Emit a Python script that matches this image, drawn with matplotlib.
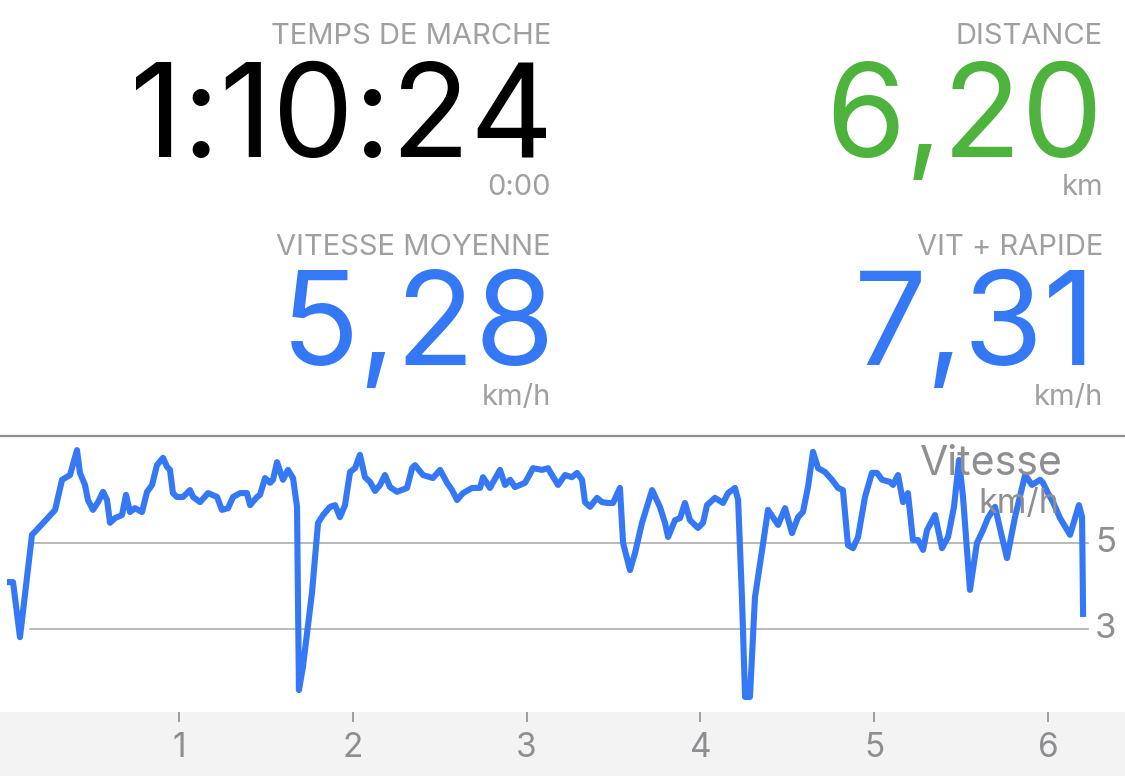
import matplotlib.pyplot as plt
from matplotlib.transforms import blended_transform_factory

# Speed profile (distance km, speed km/h)
distance = [
    0.010, 0.045, 0.085, 0.154, 0.171, 0.217, 0.287, 0.327, 0.373, 0.413,
    0.430, 0.459, 0.476, 0.505, 0.534, 0.563, 0.586, 0.603, 0.632, 0.672,
    0.695, 0.718, 0.747, 0.787, 0.816, 0.845, 0.873, 0.908, 0.931, 0.948,
    0.965, 0.988, 1.023, 1.063, 1.081, 1.121, 1.167, 1.219, 1.247, 1.282,
    1.311, 1.351, 1.391, 1.409, 1.449, 1.466, 1.495, 1.524, 1.541, 1.564,
    1.598, 1.627, 1.656, 1.679, 1.690, 1.713, 1.765, 1.800, 1.829, 1.869,
    1.898, 1.926, 1.955, 1.984, 2.013, 2.041, 2.070, 2.099, 2.128, 2.157,
    2.185, 2.214, 2.254, 2.312, 2.341, 2.358, 2.404, 2.461, 2.502, 2.542,
    2.571, 2.600, 2.634, 2.686, 2.732, 2.749, 2.789, 2.847, 2.876, 2.905,
    2.933, 2.991, 3.037, 3.089, 3.123, 3.146, 3.181, 3.221, 3.261, 3.290,
    3.319, 3.336, 3.365, 3.405, 3.434, 3.468, 3.497, 3.537, 3.555, 3.595,
    3.624, 3.664, 3.722, 3.767, 3.796, 3.814, 3.854, 3.883, 3.911, 3.940,
    3.986, 4.015, 4.038, 4.084, 4.130, 4.159, 4.199, 4.217, 4.239, 4.257,
    4.285, 4.314, 4.355, 4.389, 4.447, 4.487, 4.527, 4.562, 4.590, 4.619,
    4.648, 4.677, 4.717, 4.757, 4.792, 4.820, 4.849, 4.878, 4.907, 4.947,
    4.987, 5.016, 5.045, 5.091, 5.108, 5.137, 5.166, 5.194, 5.223, 5.252,
    5.281, 5.304, 5.350, 5.390, 5.425, 5.459, 5.488, 5.511, 5.551, 5.591,
    5.626, 5.654, 5.695, 5.735, 5.764, 5.810, 5.868, 5.908, 5.954, 5.971,
    6.000, 6.029, 6.069, 6.127, 6.156, 6.178, 6.196, 6.202,
]
speed = [
    4.09, 4.09, 2.81, 5.19, 5.26, 5.46, 5.77, 6.47, 6.58, 7.16,
    6.63, 6.35, 6.00, 5.77, 5.95, 6.19, 6.00, 5.47, 5.58, 5.65,
    6.12, 5.72, 5.81, 5.72, 6.19, 6.35, 6.81, 6.98, 6.77, 6.70,
    6.16, 6.07, 6.07, 6.23, 6.07, 5.95, 6.16, 6.07, 5.77, 5.81,
    6.07, 6.16, 6.16, 5.88, 6.07, 6.12, 6.51, 6.40, 6.47, 6.88,
    6.47, 6.70, 6.51, 5.84, 1.58, 2.12, 3.84, 5.47, 5.65, 5.84,
    5.88, 5.60, 5.88, 6.65, 6.74, 7.05, 6.53, 6.42, 6.21, 6.35,
    6.58, 6.30, 6.19, 6.28, 6.74, 6.81, 6.58, 6.51, 6.70, 6.40,
    6.23, 6.00, 6.16, 6.28, 6.28, 6.53, 6.28, 6.70, 6.35, 6.47,
    6.30, 6.40, 6.74, 6.70, 6.74, 6.58, 6.35, 6.58, 6.53, 6.63,
    6.47, 5.95, 5.84, 6.05, 5.95, 5.93, 5.93, 6.28, 5.00, 4.37,
    4.77, 5.47, 6.23, 5.84, 5.47, 5.14, 5.53, 5.58, 5.93, 5.53,
    5.35, 5.47, 5.88, 6.05, 5.93, 6.16, 6.28, 6.00, 3.74, 1.42,
    1.42, 3.74, 4.84, 5.77, 5.42, 5.81, 5.23, 5.60, 5.72, 6.30,
    7.12, 6.74, 6.65, 6.47, 6.28, 6.23, 4.95, 4.88, 5.14, 6.07,
    6.63, 6.63, 6.47, 6.42, 6.35, 6.58, 5.95, 6.16, 5.07, 5.07,
    4.84, 5.30, 5.65, 4.88, 5.14, 5.84, 6.93, 6.07, 3.91, 5.00,
    5.30, 5.58, 5.84, 5.14, 4.65, 5.60, 6.58, 6.35, 6.47, 6.40,
    6.16, 5.95, 5.58, 5.19, 5.58, 5.88, 5.60, 3.28,
]

x_ticks = [1, 2, 3, 4, 5, 6]
y_ticks = [5, 3]

# Summary panel: label, value, unit, value colour
stat_labels = ["TEMPS DE MARCHE", "DISTANCE", "VITESSE MOYENNE", "VIT + RAPIDE"]
stat_values = ["1:10:24", "6,20", "5,28", "7,31"]
stat_units = ["0:00", "km", "km/h", "km/h"]

BLUE = "#3478f6"
GREEN = "#4db33d"
GRAY = "#a0a0a0"
TICK_GRAY = "#8e8e93"
stat_colors = ["#000000", GREEN, BLUE, BLUE]

W, H = 1125, 776
plt.rcParams['font.family'] = ['Inter', 'DejaVu Sans']

fig = plt.figure(figsize=(W / 100, H / 100), dpi=100)
fig.patch.set_facecolor("white")


def px_text(x, y, s, **kw):
    # place text using pixel coords measured from top-left
    fig.text(x / W, 1 - y / H, s, **kw)


# column right edges and baselines (pixels)
right_edges = [551, 1103, 551, 1103]
value_right = [553, 1103, 555, 1097]
rows = [(44, 157, 195), (44, 157, 195), (255, 365, 405), (255, 365, 405)]
for i in range(4):
    xr = right_edges[i]
    yl, yv, yu = rows[i]
    px_text(xr, yl, stat_labels[i], ha="right", va="baseline", fontsize=21, color=GRAY)
    px_text(value_right[i], yv, stat_values[i], ha="right", va="baseline", fontsize=93,
            color=stat_colors[i])
    px_text(xr, yu, stat_units[i], ha="right", va="baseline", fontsize=21, color=GRAY)

# chart area
chart_top, chart_bot = 436, 712
ax = fig.add_axes([0, (H - chart_bot) / H, 1, (chart_bot - chart_top) / H])
ax.set_xlim(-0.030, 6.443)
ax.set_ylim(1.07, 7.488)
ax.set_facecolor("white")
for side in ["left", "right", "bottom"]:
    ax.spines[side].set_visible(False)
ax.spines["top"].set_color("#8e8e8e")
ax.spines["top"].set_linewidth(1.6)
ax.set_xticks([])
ax.set_yticks([])

for v in y_ticks:
    ax.axhline(v, xmin=0.027, xmax=0.967, color="#a6a6a6", linewidth=1.1, zorder=1)
trans = blended_transform_factory(ax.transAxes, ax.transData)
for v in y_ticks:
    ax.text(0.983, v, str(v), transform=trans, ha="center", va="center",
            fontsize=25, color=TICK_GRAY)

px_text(1063, 475, "Vitesse", ha="right", va="baseline", fontsize=29.5, color=TICK_GRAY, zorder=2)
px_text(1059, 513, "km/h", ha="right", va="baseline", fontsize=24.5, color=TICK_GRAY, zorder=2)

ax.plot(distance, speed, color=BLUE, linewidth=4.4, solid_joinstyle="round",
        solid_capstyle="butt", zorder=3)

# distance axis band
band = fig.add_axes([0, 0, 1, (H - chart_bot) / H])
band.set_xlim(ax.get_xlim())
band.set_ylim(0, 1)
band.set_facecolor("#f3f3f3")
for side in band.spines:
    band.spines[side].set_visible(False)
band.set_xticks(x_ticks)
band.set_yticks([])
band.tick_params(axis="x", top=True, bottom=False, direction="in", length=7.5,
                 width=1.2, color=TICK_GRAY, labelbottom=False)
for t in x_ticks:
    band.text(t, 0.44, str(t), ha="center", va="center", fontsize=24, color=TICK_GRAY)

fig.savefig("out.png", dpi=100)
